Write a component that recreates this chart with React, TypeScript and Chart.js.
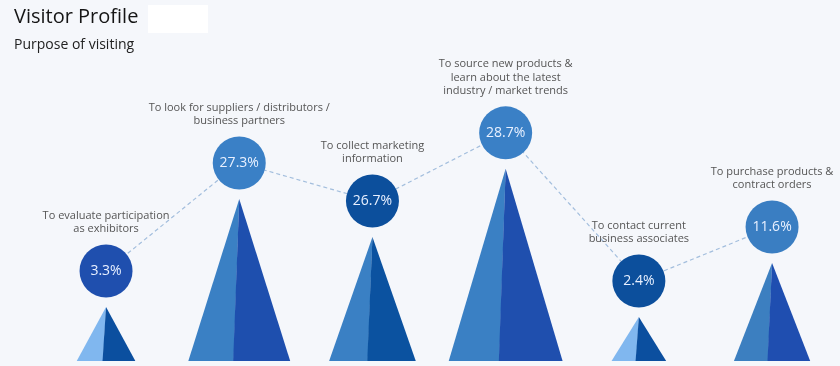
import React, { useEffect, useRef } from 'react';
import { Chart, registerables } from 'chart.js';

Chart.register(...registerables);

// ---------- data ----------
const titleText = 'Visitor Profile';
const subtitleText = 'Purpose of visiting';

const purposes: string[][] = [
  ['To evaluate participation', 'as exhibitors'],
  ['To look for suppliers / distributors /', 'business partners'],
  ['To collect marketing', 'information'],
  ['To source new products &', 'learn about the latest', 'industry / market trends'],
  ['To contact current', 'business associates'],
  ['To purchase products &', 'contract orders'],
];

// share of visitors (%)
const shares: number[] = [3.3, 27.3, 26.7, 28.7, 2.4, 11.6];

// pictorial pyramid heights (visual units, as drawn in the infographic)
const pyramidHeight: number[] = [54, 162, 124, 192, 44, 98];

// ---------- styles ----------
const FONT = '"Open Sans", "Noto Sans", "DejaVu Sans", sans-serif';
const BG = '#f5f7fb';
const CIRCLE_COLORS = ['#1f4fae', '#3a80c6', '#0c4f9c', '#3a80c6', '#0c4f9c', '#3a7ec2'];
const LEFT_FACE = ['#80b7ef', '#3a80c4', '#3a80c4', '#3a80c4', '#80b7ef', '#3c7fc0'];
const RIGHT_FACE = ['#0b4f9f', '#1e4fae', '#0b52a0', '#1f4fae', '#0b4f9f', '#1f4eb0'];
const CIRCLE_LIFT = 36;
const CIRCLE_R = 26.5;

export default function App() {
  const ref = useRef<HTMLCanvasElement>(null);

  useEffect(() => {
    document.body.style.margin = '0';
    document.body.style.background = BG;
    const canvas = ref.current;
    if (!canvas) return;

    const bgPlugin = {
      id: 'bgPlugin',
      beforeDraw(chart: any) {
        const ctx = chart.ctx;
        ctx.save();
        ctx.fillStyle = BG;
        ctx.fillRect(0, 0, chart.width, chart.height);
        ctx.fillStyle = '#ffffff';
        ctx.fillRect(148, 5, 60, 28);
        ctx.restore();
      },
    };

    const pyramidPlugin = {
      id: 'pyramidPlugin',
      afterDatasetDraw(chart: any, args: any) {
        if (args.index !== 0) return;
        const ctx = chart.ctx;
        args.meta.data.forEach((bar: any, i: number) => {
          const { x, y, base } = bar.getProps(['x', 'y', 'base'], true);
          const h = base - y;
          const w = 37 + 0.4 * h;
          const left = x - w / 2;
          const right = x + w / 2;
          const split = left + 0.44 * w;
          ctx.save();
          ctx.fillStyle = LEFT_FACE[i];
          ctx.beginPath();
          ctx.moveTo(x, y);
          ctx.lineTo(left, base);
          ctx.lineTo(split + 0.5, base);
          ctx.closePath();
          ctx.fill();
          ctx.fillStyle = RIGHT_FACE[i];
          ctx.beginPath();
          ctx.moveTo(x, y);
          ctx.lineTo(split, base);
          ctx.lineTo(right, base);
          ctx.closePath();
          ctx.fill();
          ctx.restore();
        });
      },
    };

    const liftPlugin = {
      id: 'liftPlugin',
      beforeDatasetDraw(chart: any, args: any) {
        if (args.index !== 1) return;
        chart.ctx.save();
        chart.ctx.translate(0, -CIRCLE_LIFT);
      },
      afterDatasetDraw(chart: any, args: any) {
        if (args.index !== 1) return;
        chart.ctx.restore();
      },
    };

    const textPlugin = {
      id: 'textPlugin',
      afterDatasetsDraw(chart: any) {
        const ctx = chart.ctx;
        const meta = chart.getDatasetMeta(1);
        ctx.save();
        ctx.textAlign = 'center';
        ctx.textBaseline = 'middle';
        meta.data.forEach((pt: any, i: number) => {
          const { x, y } = pt.getProps(['x', 'y'], true);
          const cy = y - CIRCLE_LIFT;
          ctx.fillStyle = '#e8f0ff';
          ctx.font = `14px ${FONT}`;
          ctx.fillText(`${shares[i]}%`, x, cy);
          const lines = purposes[i];
          ctx.fillStyle = '#555555';
          ctx.font = `11px ${FONT}`;
          const lh = 13.5;
          lines.forEach((ln, k) => {
            const ly = cy - 42 - (lines.length - 1 - k) * lh;
            ctx.fillText(ln, x, ly);
          });
        });
        ctx.restore();
      },
    };

    const points = pyramidHeight.map((h, i) => ({ x: i, y: h }));

    const chart = new Chart(canvas, {
      type: 'bar',
      data: {
        datasets: [
          {
            type: 'bar',
            label: 'Pyramids',
            data: points,
            backgroundColor: 'rgba(0,0,0,0)',
            borderWidth: 0,
          } as any,
          {
            type: 'line',
            label: 'Share',
            data: points,
            borderColor: '#a3bedd',
            borderWidth: 1.2,
            borderDash: [4, 3],
            pointRadius: CIRCLE_R,
            pointHoverRadius: CIRCLE_R,
            pointBackgroundColor: CIRCLE_COLORS,
            pointBorderWidth: 0,
            pointHoverBorderWidth: 0,
            clip: false,
            tension: 0,
          } as any,
        ],
      },
      options: {
        animation: false,
        responsive: false,
        events: [],
        layout: { autoPadding: false, padding: { left: 14, right: 0, top: 0, bottom: 5 } },
        plugins: {
          legend: { display: false },
          tooltip: { enabled: false },
          title: {
            display: true,
            text: titleText,
            align: 'start',
            color: '#151515',
            font: { family: FONT, size: 20, weight: 'normal' },
            padding: { top: 5, bottom: 2 },
          },
          subtitle: {
            display: true,
            text: subtitleText,
            align: 'start',
            color: '#222222',
            font: { family: FONT, size: 14, weight: 'normal' },
            padding: { top: 6, bottom: 0 },
          },
        },
        scales: {
          x: {
            type: 'linear',
            display: false,
            min: -0.691,
            max: 5.51,
            offset: false,
          },
          y: {
            display: false,
            min: 0,
            max: 307,
          },
        },
      } as any,
      plugins: [bgPlugin, pyramidPlugin, liftPlugin, textPlugin],
    });

    return () => chart.destroy();
  }, []);

  return (
    <div style={{ width: 840, height: 366, background: BG }}>
      <canvas ref={ref} width={840} height={366} style={{ display: 'block' }} />
    </div>
  );
}
